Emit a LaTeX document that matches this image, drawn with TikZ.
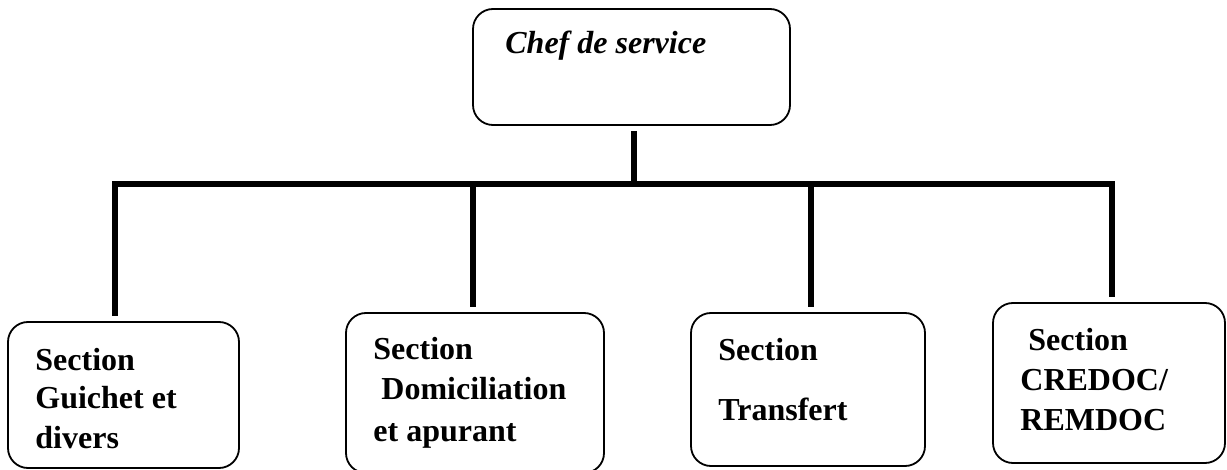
\documentclass[tikz,border=0pt]{standalone}
\usepackage{fontspec}
\setmainfont{Liberation Serif}
\usetikzlibrary{calc}

\begin{document}
\begin{tikzpicture}[x=0.5pt,y=-0.5pt]
	\useasboundingbox (0,0) rectangle (1227,470);
	\begin{scope}[every node/.style={draw,rounded corners=10pt,line width=0.9pt,inner sep=0pt}]
	    \node[minimum width=158.5pt,minimum height=58pt] (chef) at (631.5,67) {};
	    \node[minimum width=115.5pt,minimum height=73pt] (guichet) at (123.5,395) {};
	    \node[minimum width=129pt,minimum height=80pt] (domic) at (475,393) {};
	    \node[minimum width=117pt,minimum height=76.5pt] (transfert) at (808,389.5) {};
	    \node[minimum width=116pt,minimum height=80pt] (credoc) at (1109,383) {};
	\end{scope}
	
	\begin{scope}[every node/.style={font=\fontsize{16}{16}\selectfont\bfseries,
	              align=left,inner sep=0pt,anchor=base west}]
	    \node (chef-txt) at (505,54) {\itshape Chef de service};
	    \node (guichet-txt) at (35,448) {Section\\[3pt]Guichet et\\[4pt]divers};
	    \node (domic-txt) at (373,442) {Section\\[4pt]\ Domiciliation\\[5pt]et apurant};
	    \node (transfert-txt) at (718,421) {Section\\[14pt]Transfert};
	    \node (credoc-txt) at (1020,430) {\ Section\\[4pt]CREDOC/\\[4pt]REMDOC};
	\end{scope}
	
	\begin{scope}[line width=3pt]
	    \coordinate (bar) at (634,184);
	    \coordinate (chef-bot) at ($(chef.south)+(2.5,5)$);
	    \foreach \n/\dx in {guichet/-8.5, domic/-2, transfert/3, credoc/3}
	        \coordinate (\n-top) at ($(\n.north)+(\dx,-5)$);
	    \draw (chef-bot) -- (chef-bot |- bar);
	    \draw[line cap=rect] (guichet-top |- bar) -- (credoc-top |- bar);
	    \foreach \n in {guichet, domic, transfert, credoc}
	        \draw (\n-top |- bar) -- (\n-top);
	\end{scope}
\end{tikzpicture}
\end{document}
